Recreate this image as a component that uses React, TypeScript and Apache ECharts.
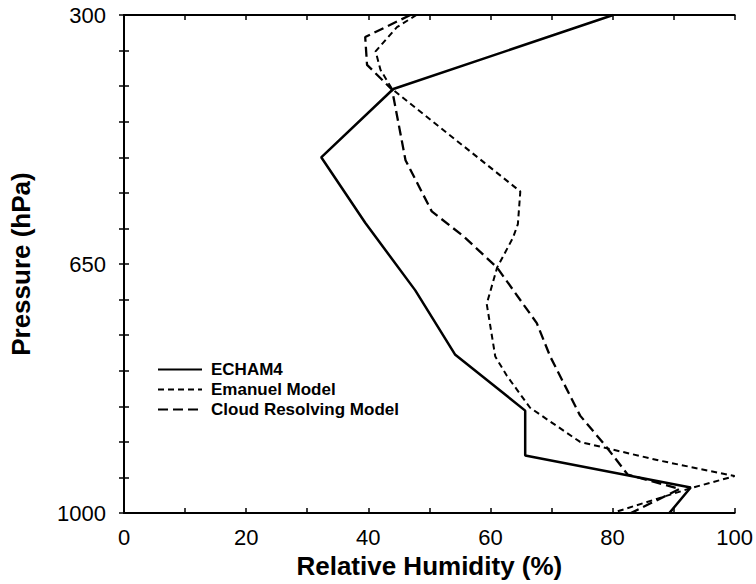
import React, { useEffect, useRef } from "react";
import * as echarts from "echarts";

// Relative humidity (%) against pressure (hPa) for three models
const echamRH = [80.1, 44.1, 32.3, 39.5, 47.7, 54.2, 65.7, 65.7, 92.8, 89.3];
const echamP = [300, 404, 500, 592, 687, 777, 856, 919, 964, 1000];

const emanuelRH = [47.9, 44.7, 41.2, 42.0, 43.9, 64.9, 64.5, 63.7, 61.1, 59.4, 60.8, 62.7, 66.5, 74.7, 87.6, 100, 92.8, 79.9];
const emanuelP = [300, 317, 351, 377, 404, 548, 594, 613, 655, 706, 780, 807, 852, 900, 926, 948, 965, 1000];

const crmRH = [46.9, 39.5, 39.8, 43.9, 46.1, 50.4, 55.6, 61.1, 67.6, 69.8, 74.7, 79.0, 82.5, 91.0, 83.0];
const crmP = [300, 331, 370, 405, 504, 576, 611, 655, 733, 780, 863, 907, 946, 966, 1000];

const seriesNames = ["ECHAM4", "Emanuel Model", "Cloud Resolving Model"];
const yLabelValues = [300, 650, 1000];

const zip = (xs: number[], ys: number[]) => xs.map((x, i) => [x, ys[i]]);

const FONT = "Liberation Sans, Arial, Helvetica, sans-serif";

export default function App() {
  const ref = useRef<HTMLDivElement>(null);

  useEffect(() => {
    if (!ref.current) return;
    const chart = echarts.init(ref.current, undefined, { renderer: "svg" });

    const frameLine = { show: true, lineStyle: { color: "#000", width: 2 } };
    const innerTicks = { show: true, inside: true, length: 5, lineStyle: { color: "#000", width: 1.5 } };

    chart.setOption({
      animation: false,
      backgroundColor: "#fff",
      grid: { left: 123, right: 21, top: 15, bottom: 66, containLabel: false },
      legend: {
        orient: "vertical",
        left: 152,
        top: 356,
        itemWidth: 44,
        itemHeight: 14,
        itemGap: 3,
        data: seriesNames,
        itemStyle: { opacity: 0 },
        textStyle: { fontFamily: FONT, fontWeight: "bold", fontSize: 17, color: "#000", padding: [0, 0, 0, 4] },
      },
      xAxis: [
        {
          type: "value",
          position: "bottom",
          min: 0,
          max: 100,
          interval: 10,
          axisLine: frameLine,
          axisTick: innerTicks,
          splitLine: { show: false },
          axisLabel: {
            margin: 13,
            color: "#000",
            fontFamily: FONT,
            fontSize: 22,
            formatter: (v: number) => (v % 20 === 0 ? String(v) : ""),
          },
          name: "Relative Humidity (%)",
          nameLocation: "middle",
          nameGap: 33,
          nameTextStyle: { color: "#000", fontFamily: FONT, fontWeight: "bold", fontSize: 26 },
        },
        {
          type: "value",
          position: "top",
          min: 0,
          max: 100,
          interval: 10,
          axisLine: frameLine,
          axisTick: innerTicks,
          splitLine: { show: false },
          axisLabel: { show: false },
        },
      ],
      yAxis: [
        {
          type: "value",
          position: "left",
          inverse: true,
          min: 300,
          max: 1000,
          interval: 50,
          axisLine: frameLine,
          axisTick: innerTicks,
          splitLine: { show: false },
          axisLabel: {
            margin: 18,
            color: "#000",
            fontFamily: FONT,
            fontSize: 22,
            formatter: (v: number) => (yLabelValues.includes(v) ? String(v) : ""),
          },
          name: "Pressure (hPa)",
          nameLocation: "middle",
          nameGap: 90,
          nameRotate: 90,
          nameTextStyle: { color: "#000", fontFamily: FONT, fontWeight: "bold", fontSize: 26 },
        },
        {
          type: "value",
          position: "right",
          inverse: true,
          min: 300,
          max: 1000,
          interval: 50,
          axisLine: frameLine,
          axisTick: innerTicks,
          splitLine: { show: false },
          axisLabel: { show: false },
        },
      ],
      series: [
        {
          name: seriesNames[0],
          type: "line",
          symbol: "none",
          data: zip(echamRH, echamP),
          lineStyle: { color: "#000", width: 2.5, type: "solid" },
          itemStyle: { color: "#000" },
        },
        {
          name: seriesNames[1],
          type: "line",
          symbol: "none",
          data: zip(emanuelRH, emanuelP),
          lineStyle: { color: "#000", width: 2, type: [6, 4] },
          itemStyle: { color: "#000" },
        },
        {
          name: seriesNames[2],
          type: "line",
          symbol: "none",
          data: zip(crmRH, crmP),
          lineStyle: { color: "#000", width: 2.3, type: [10, 5] },
          itemStyle: { color: "#000" },
        },
      ],
    });

    return () => chart.dispose();
  }, []);

  return (
    <div
      ref={ref}
      style={{ width: 756, height: 584, position: "absolute", left: 0, top: 0, background: "#fff" }}
    />
  );
}
